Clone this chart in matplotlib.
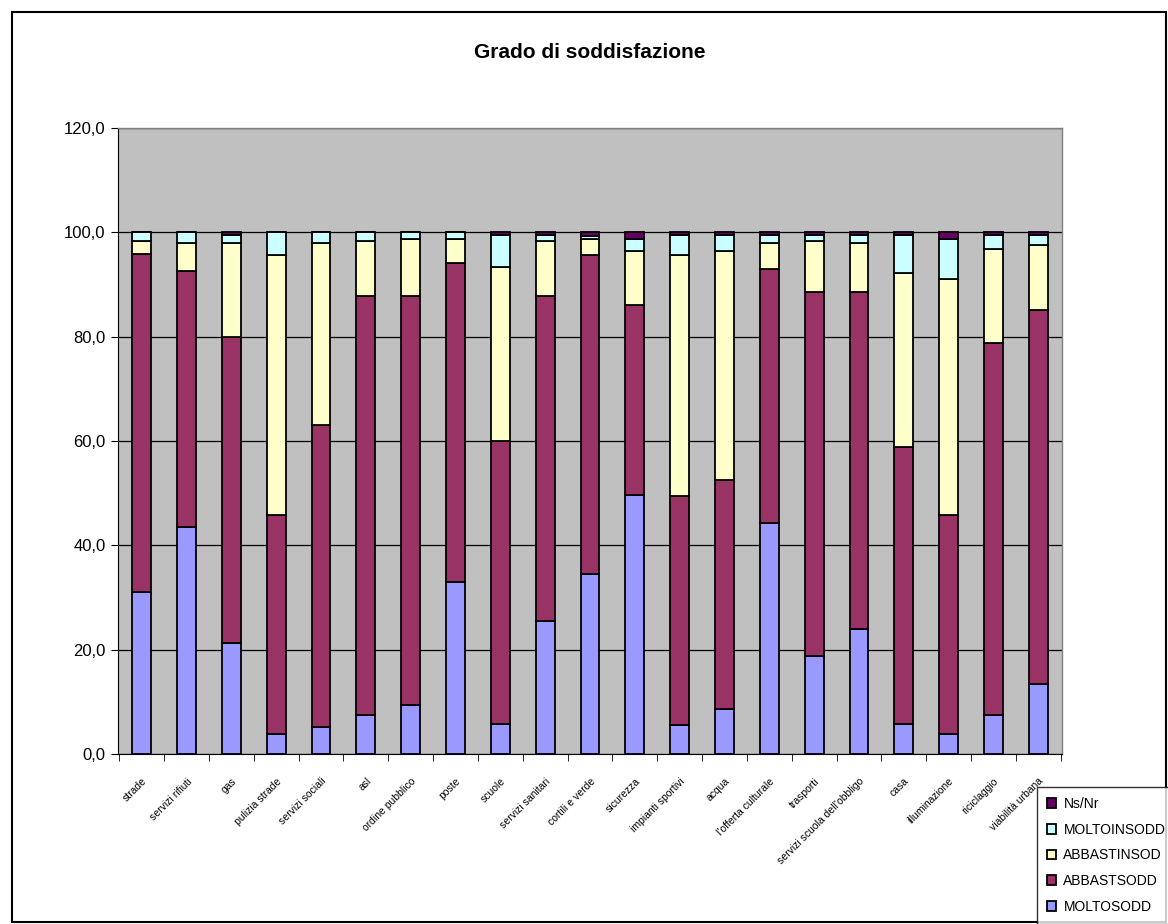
import matplotlib
matplotlib.use("Agg")
import matplotlib.pyplot as plt
from matplotlib.patches import Rectangle
from matplotlib.ticker import FuncFormatter, MultipleLocator
import numpy as np

plt.rcParams['font.family'] = ['Liberation Sans', 'DejaVu Sans']

title = "Grado di soddisfazione"
categories = ["strade", "servizi rifiuti", "gas", "pulizia strade", "servizi sociali",
              "asl", "ordine pubblico", "poste", "scuole", "servizi sanitari",
              "cortili e verde", "sicurezza", "impianti sportivi", "acqua",
              "l'offerta culturale", "trasporti", "servizi scuola dell'obbligo",
              "casa", "illuminazione", "riciclaggio", "viabilità urbana"]

series_names = ["MOLTOSODD", "ABBASTSODD", "ABBASTINSOD", "MOLTOINSODD", "Ns/Nr"]
moltosodd   = [31.0, 43.5, 21.2, 3.8, 5.1, 7.4, 9.3, 32.9, 5.8, 25.5, 34.5, 49.7, 5.5, 8.7, 44.3, 18.8, 23.9, 5.8, 3.9, 7.4, 13.4]
abbastsodd  = [64.9, 49.0, 58.7, 42.0, 58.0, 80.4, 78.5, 61.2, 54.2, 62.3, 61.1, 36.3, 43.9, 43.9, 48.6, 69.8, 64.7, 53.1, 41.9, 71.4, 71.7]
abbastinsod = [2.5, 5.5, 18.0, 49.8, 34.8, 10.6, 11.0, 4.7, 33.3, 10.6, 3.1, 10.4, 46.2, 43.8, 5.1, 9.8, 9.4, 33.3, 45.3, 18.1, 12.5]
moltoinsodd = [1.6, 2.0, 1.6, 4.4, 2.1, 1.6, 1.2, 1.2, 6.2, 1.1, 0.6, 2.4, 3.9, 3.1, 1.5, 1.1, 1.5, 7.3, 7.7, 2.6, 1.9]
nsnr        = [0.0, 0.0, 0.5, 0.0, 0.0, 0.0, 0.0, 0.0, 0.5, 0.5, 0.7, 1.2, 0.5, 0.5, 0.5, 0.5, 0.5, 0.5, 1.2, 0.5, 0.5]
colors = ["#9999FF", "#993366", "#FFFFCC", "#CCFFFF", "#660066"]

W, H = 1168, 924
fig = plt.figure(figsize=(W / 100, H / 100), dpi=100)
fig.patch.set_facecolor("white")
fig.add_artist(Rectangle((12 / W, 2 / H), (W - 14) / W, (H - 14) / H, transform=fig.transFigure,
                         fill=False, edgecolor="black", linewidth=1.5))

ax = fig.add_axes([118 / W, 1 - 754 / H, (1062 - 118) / W, (754 - 128) / H])
ax.set_facecolor("#C0C0C0")

x = np.arange(len(categories))
bottom = np.zeros(len(categories))
bars = []
for name, vals, c in zip(series_names, [moltosodd, abbastsodd, abbastinsod, moltoinsodd, nsnr], colors):
    b = ax.bar(x, vals, width=0.42, bottom=bottom, color=c, edgecolor="black", linewidth=1.3,
               label=name, zorder=3)
    bars.append(b)
    bottom += np.array(vals)

ax.set_ylim(0, 120)
ax.set_xlim(-0.53, len(categories) - 0.47)
ax.yaxis.set_major_locator(MultipleLocator(20))
ax.yaxis.set_major_formatter(FuncFormatter(lambda v, p: f"{v:.1f}".replace(".", ",")))
ax.yaxis.grid(True, color="black", linewidth=0.9, zorder=1)
ax.tick_params(axis="y", labelsize=12, length=5, direction="out", pad=4)

ax.set_xticks(x)
ax.set_xticklabels(categories, rotation=45, ha="right", va="top", rotation_mode="anchor",
                   fontsize=7.5)
ax.set_xticks(np.arange(len(categories) + 1) - 0.5, minor=True)
ax.tick_params(axis="x", which="major", length=0, pad=16)
ax.tick_params(axis="x", which="minor", length=5, direction="out")

for s in ["top", "right"]:
    ax.spines[s].set_color("#808080")
    ax.spines[s].set_linewidth(1)
ax.spines["left"].set_color("black")
ax.spines["bottom"].set_color("black")

fig.text(590 / W, 1 - 52 / H, title, ha="center", va="center", fontsize=15, fontweight="bold")

handles = [bars[i] for i in range(4, -1, -1)]
labels = [series_names[i] for i in range(4, -1, -1)]
leg = fig.legend(handles, labels, loc="upper left", bbox_to_anchor=(1037 / W, 1 - 787 / H),
                 fontsize=10, frameon=True, fancybox=False, shadow=False, edgecolor="black",
                 handlelength=0.7, handleheight=0.7, handletextpad=0.5, labelspacing=0.85,
                 borderpad=0.7, borderaxespad=0)
leg.get_frame().set_linewidth(1)

fig.savefig("out.png", dpi=100)
